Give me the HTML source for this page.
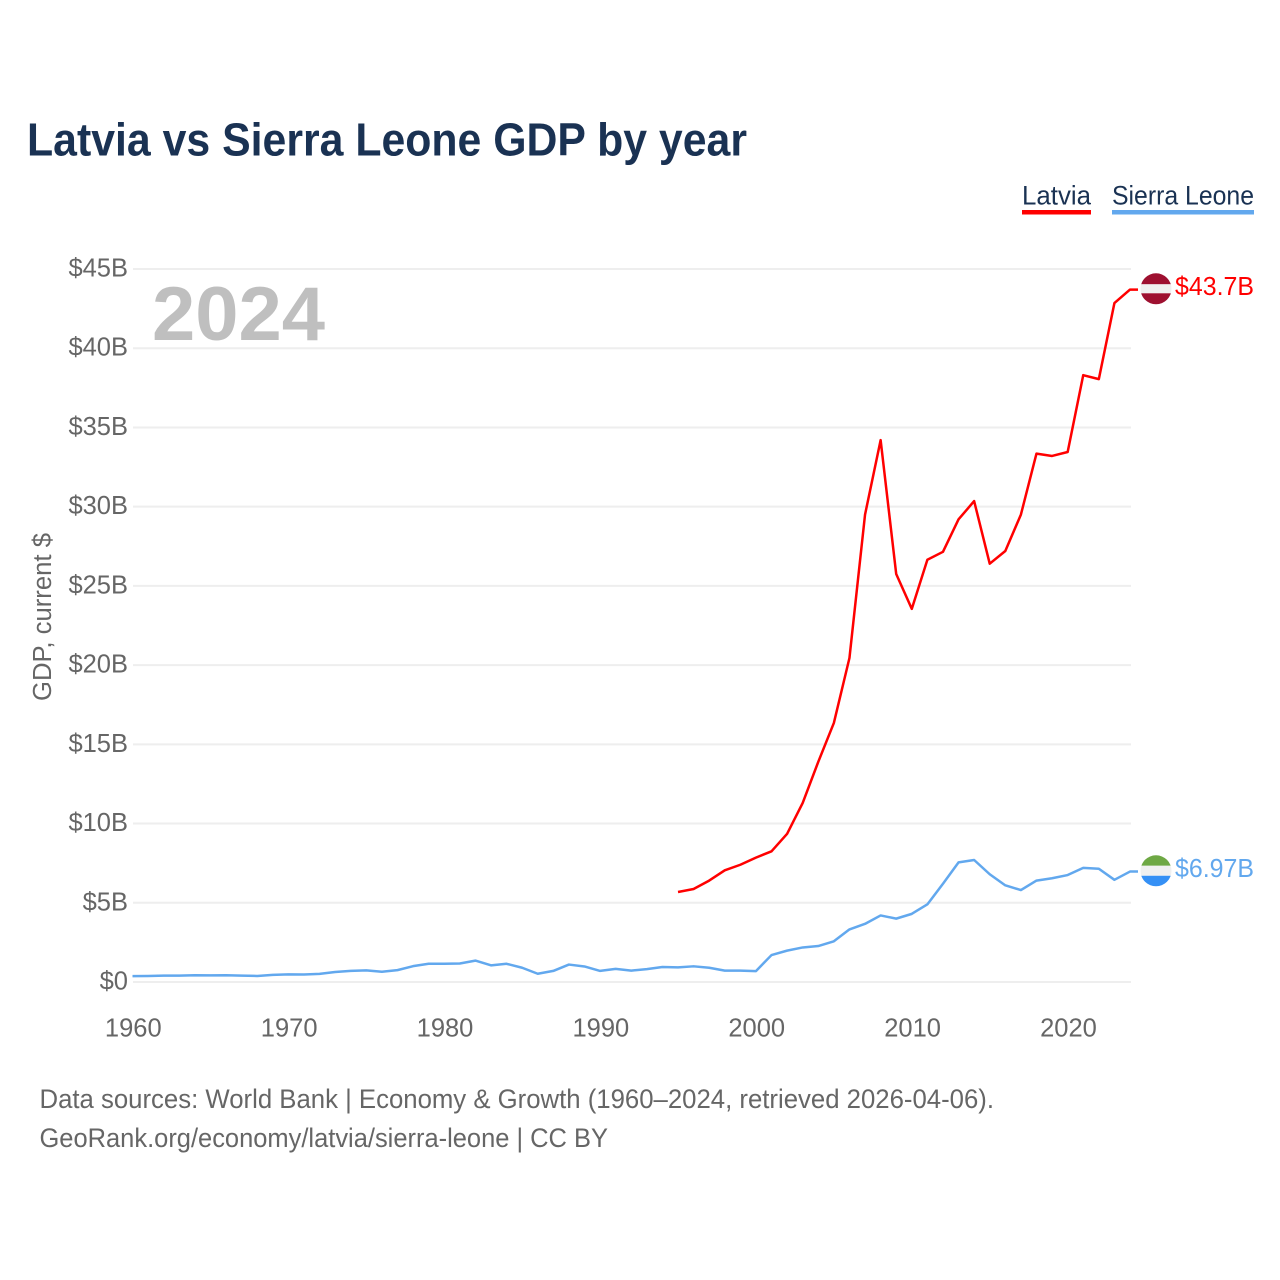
<!DOCTYPE html>
<html lang="en">
<head>
<meta charset="utf-8">
<title>Latvia vs Sierra Leone GDP by year</title>
<style>
html,body{margin:0;padding:0;background:#fff;}
svg{display:block;font-family:"Liberation Sans",sans-serif;}
</style>
</head>
<body>
<svg id="chart" width="1280" height="1280" viewBox="0 0 1280 1280" xmlns="http://www.w3.org/2000/svg">
  <rect width="1280" height="1280" fill="#fff"/>
  <text x="27" y="155.5" font-size="46" font-weight="700" fill="#1a3253" textLength="720" lengthAdjust="spacingAndGlyphs">Latvia vs Sierra Leone GDP by year</text>
  <g>
    <g>
      <text x="1022" y="204.5" font-size="27" fill="#1a3253" textLength="69" lengthAdjust="spacingAndGlyphs">Latvia</text>
      <rect x="1022" y="210" width="69" height="4.5" fill="#ff0000"/>
    </g>
    <g>
      <text x="1112" y="204.5" font-size="27" fill="#1a3253" textLength="142" lengthAdjust="spacingAndGlyphs">Sierra Leone</text>
      <rect x="1112" y="210" width="142" height="4.5" fill="#62a8ee"/>
    </g>
  </g>
  <g id="grid"></g>
  <g id="yticks"></g>
  <g id="xticks"></g>
  <text x="152" y="340" font-size="76" font-weight="700" fill="#bfbfbf" textLength="173" lengthAdjust="spacingAndGlyphs">2024</text>
  <text transform="translate(51,701) rotate(-90)" font-size="25.5" fill="#666" textLength="168" lengthAdjust="spacingAndGlyphs">GDP, current $</text>
  <g id="series"></g>
  <g id="ends"></g>
  <g>
    <text x="39.5" y="1108" font-size="26.5" fill="#666" textLength="954.5" lengthAdjust="spacingAndGlyphs">Data sources: World Bank | Economy &amp; Growth (1960–2024, retrieved 2026-04-06).</text>
    <text x="39.5" y="1147" font-size="26.5" fill="#666" textLength="568.5" lengthAdjust="spacingAndGlyphs">GeoRank.org/economy/latvia/sierra-leone | CC BY</text>
  </g>
</svg>
<script>
const yTickValues = [0, 5, 10, 15, 20, 25, 30, 35, 40, 45];
const yTickLabels = ["$0", "$5B", "$10B", "$15B", "$20B", "$25B", "$30B", "$35B", "$40B", "$45B"];
const xTickYears = [1960, 1970, 1980, 1990, 2000, 2010, 2020];
const latviaStartYear = 1995;
const latviaValues = [5.68, 5.87, 6.4, 7.05, 7.4, 7.85, 8.25, 9.35, 11.3, 13.9, 16.35, 20.45, 29.5, 34.2, 25.75, 23.55, 26.65, 27.15, 29.2, 30.35, 26.4, 27.2, 29.5, 33.35, 33.2, 33.45, 38.3, 38.05, 42.85, 43.7];
const sierraStartYear = 1960;
const sierraValues = [0.37, 0.38, 0.4, 0.4, 0.43, 0.42, 0.43, 0.4, 0.38, 0.45, 0.48, 0.47, 0.51, 0.63, 0.7, 0.73, 0.65, 0.75, 1.0, 1.15, 1.15, 1.17, 1.35, 1.05, 1.15, 0.9, 0.52, 0.7, 1.1, 0.98, 0.7, 0.83, 0.72, 0.81, 0.95, 0.92, 0.99, 0.9, 0.72, 0.72, 0.69, 1.7, 1.98, 2.18, 2.27, 2.57, 3.32, 3.67, 4.2, 4.0, 4.3, 4.9, 6.2, 7.55, 7.7, 6.8, 6.1, 5.8, 6.4, 6.55, 6.75, 7.2, 7.15, 6.45, 6.97];
const latviaEndLabel = "$43.7B";
const sierraEndLabel = "$6.97B";

const NS = "http://www.w3.org/2000/svg";
const xScale = year => 132.5 + (year - 1960) * (1130 - 132.5) / 64;
const yScale = value => 982 - value * (982 - 269) / 45;

function make(tag, attrs, parent) {
  const el = document.createElementNS(NS, tag);
  for (const k in attrs) el.setAttribute(k, attrs[k]);
  parent.appendChild(el);
  return el;
}

const grid = document.getElementById("grid");
const yticks = document.getElementById("yticks");
const xticks = document.getElementById("xticks");
const series = document.getElementById("series");
const ends = document.getElementById("ends");

yTickValues.forEach((v, i) => {
  const line = make("line", {x1: 133, x2: 1131, y1: yScale(v), y2: yScale(v), stroke: "#eeeeee", "stroke-width": 2}, grid);
  
  
  const t = make("text", {x: 128, y: yScale(v) + 7.5, "text-anchor": "end", "font-size": 25.5, fill: "#666"}, yticks);
  
  
  t.textContent = yTickLabels[i];
});

xTickYears.forEach(year => {
  const t = make("text", {x: xScale(year) + 0.8, y: 1036.5, "text-anchor": "middle", "font-size": 25.5, fill: "#666"}, xticks);
  
  
  t.textContent = year;
});

function pointsFor(values, startYear) {
  const pts = values.map((v, i) => xScale(startYear + i).toFixed(2) + "," + yScale(v).toFixed(2));
  pts.push("1138," + yScale(values[values.length - 1]).toFixed(2));
  return pts.join(" ");
}

const sierraLine = make("polyline", {points: pointsFor(sierraValues, sierraStartYear), fill: "none", stroke: "#62a8ee", "stroke-width": 2.5, "stroke-linejoin": "round"}, series);



const latviaLine = make("polyline", {points: pointsFor(latviaValues, latviaStartYear), fill: "none", stroke: "#ff0000", "stroke-width": 2.5, "stroke-linejoin": "round"}, series);



const defs = make("defs", {}, ends);
const clip = make("clipPath", {id: "flagClip"}, defs);
make("circle", {cx: 0, cy: 0, r: 15.5}, clip);

function endMarker(value, bands, label, color) {
  const cy = yScale(value) - 0.8;
  const g = make("g", {transform: "translate(1156," + cy + ")"}, ends);
  const flag = make("g", {"clip-path": "url(#flagClip)"}, g);
  bands.forEach(b => make("rect", {x: -16, y: b[0], width: 32, height: b[1], fill: b[2]}, flag));
  const t = make("text", {x: 19, y: 6, "font-size": 26, fill: color, textLength: 79, lengthAdjust: "spacingAndGlyphs"}, g);
  t.textContent = label;
  return {group: g, flag: flag, text: t};
}

const latviaMarker = endMarker(latviaValues[latviaValues.length - 1], [[-16, 11.5, "#9e1030"], [-4.5, 9, "#f0f0f0"], [4.5, 12, "#9e1030"]], latviaEndLabel, "#ff0000");







const sierraMarker = endMarker(sierraValues[sierraValues.length - 1], [[-16, 11, "#6ea844"], [-5, 10, "#f0f0f0"], [5, 11, "#3590f5"]], sierraEndLabel, "#62a8ee");






</script>
</body>
</html>
